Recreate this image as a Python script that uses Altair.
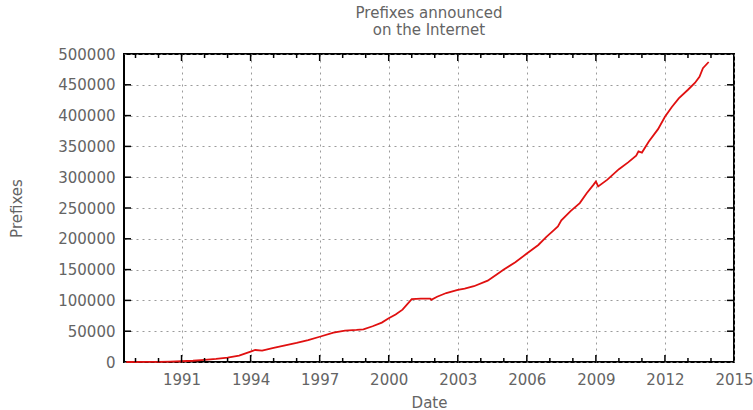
import altair as alt
import pandas as pd

# Routed prefix count over time
years = [1988.6, 1989.5, 1990.0, 1990.5, 1991.0, 1991.5, 1992.0, 1992.5, 1993.0, 1993.5,
         1994.0, 1994.2, 1994.5, 1995.0, 1995.5, 1996.0, 1996.5, 1997.0, 1997.6, 1998.1,
         1998.6, 1998.9, 1999.3, 1999.7, 2000.0, 2000.3, 2000.6, 2001.0, 2001.4, 2001.8,
         2001.85, 2002.1, 2002.5, 2003.0, 2003.3, 2003.7, 2004.3, 2004.8, 2005.0, 2005.5,
         2006.0, 2006.5, 2006.85, 2007.2, 2007.35, 2007.5, 2007.9, 2008.3, 2008.6, 2008.9,
         2009.0, 2009.1, 2009.5, 2010.0, 2010.4, 2010.75, 2010.85, 2011.0, 2011.3, 2011.7,
         2012.0, 2012.3, 2012.6, 2013.0, 2013.3, 2013.5, 2013.65, 2013.9]
prefixes = [0, 100, 300, 700, 1200, 2000, 3500, 5000, 7000, 10500,
            17000, 19500, 18500, 23000, 27000, 31000, 35500, 41000, 47500, 51000,
            52000, 53000, 58000, 64000, 71000, 77000, 85000, 102000, 103000, 103000,
            101000, 106000, 112000, 117000, 119000, 123000, 132000, 145000, 150000, 162000,
            176000, 190000, 203000, 215000, 220000, 230000, 245000, 258000, 274000, 288000,
            293000, 285000, 296000, 313000, 324000, 335000, 342000, 340000, 358000, 378000,
            398000, 414000, 428000, 442000, 453000, 463000, 477000, 487000]

x_major = [1991, 1994, 1997, 2000, 2003, 2006, 2009, 2012]
x_minor = [1989, 1990, 1992, 1993, 1995, 1996, 1998, 1999, 2001, 2002, 2004, 2005,
           2007, 2008, 2010, 2011, 2013, 2014]
x_labels = [1991, 1994, 1997, 2000, 2003, 2006, 2009, 2012, 2015]
y_major = [50000, 100000, 150000, 200000, 250000, 300000, 350000, 400000, 450000]
y_labels = [0, 50000, 100000, 150000, 200000, 250000, 300000, 350000, 400000, 450000, 500000]

W, H = 610, 308
FONT = "DejaVu Sans"
TXT = "#646464"

xs = alt.Scale(domain=[1988.5, 2015], nice=False, zero=False)
ys = alt.Scale(domain=[0, 500000], nice=False)

# one axis definition per channel, shared by every layer so the merged axis keeps it
x_axis = alt.Axis(values=x_labels, format="d", grid=True, ticks=False, domain=False,
                  labelPadding=10, titlePadding=8, labelOverlap=False, labelFlush=False)
y_axis = alt.Axis(values=y_labels, format="d", grid=True, ticks=False, domain=False,
                  labelPadding=9, titlePadding=33, labelOverlap=False, labelFlush=False)

def X(field):
    return alt.X(field, scale=xs, axis=x_axis, title="Date")

def Y(field):
    return alt.Y(field, scale=ys, axis=y_axis, title="Prefixes")

df = pd.DataFrame({"year": years, "prefixes": prefixes})

line = alt.Chart(df).mark_line(color="#e01010", strokeWidth=1.8, interpolate="linear").encode(
    x=X("year:Q"), y=Y("prefixes:Q"))

xmaj = pd.DataFrame({"t": x_major})
xmin = pd.DataFrame({"t": x_minor})
ymaj = pd.DataFrame({"v": y_major})

def xticks(frame, length):
    bottom = alt.Chart(frame).mark_rule(color="black", strokeWidth=1.5).encode(
        x=X("t:Q"), y=alt.value(H), y2=alt.value(H - length))
    top = alt.Chart(frame).mark_rule(color="black", strokeWidth=1.5).encode(
        x=X("t:Q"), y=alt.value(0), y2=alt.value(length))
    return bottom + top

left = alt.Chart(ymaj).mark_rule(color="black", strokeWidth=1.5).encode(
    y=Y("v:Q"), x=alt.value(0), x2=alt.value(7))
right = alt.Chart(ymaj).mark_rule(color="black", strokeWidth=1.5).encode(
    y=Y("v:Q"), x=alt.value(W - 7), x2=alt.value(W))

chart = alt.layer(
    line, xticks(xmaj, 7), xticks(xmin, 4), left, right
).properties(
    width=W, height=H,
    background="white",
    title=alt.TitleParams(["Prefixes announced", "on the Internet"], anchor="middle",
                          fontSize=15, font=FONT, fontWeight="normal", color=TXT,
                          offset=9, lineHeight=17),
    autosize=alt.AutoSizeParams(type="none"),
    padding={"left": 124, "top": 54, "right": 19, "bottom": 48},
).configure_view(
    stroke="black", strokeWidth=2
).configure_axis(
    labelFont=FONT, titleFont=FONT, labelFontSize=15, titleFontSize=15,
    labelColor=TXT, titleColor=TXT, titleFontWeight="normal",
    gridColor="#8a8a8a", gridDash=[2, 4], gridWidth=1, gridOpacity=0.85,
)

chart.save("out.html", embed_options={"renderer": "svg", "actions": False})
